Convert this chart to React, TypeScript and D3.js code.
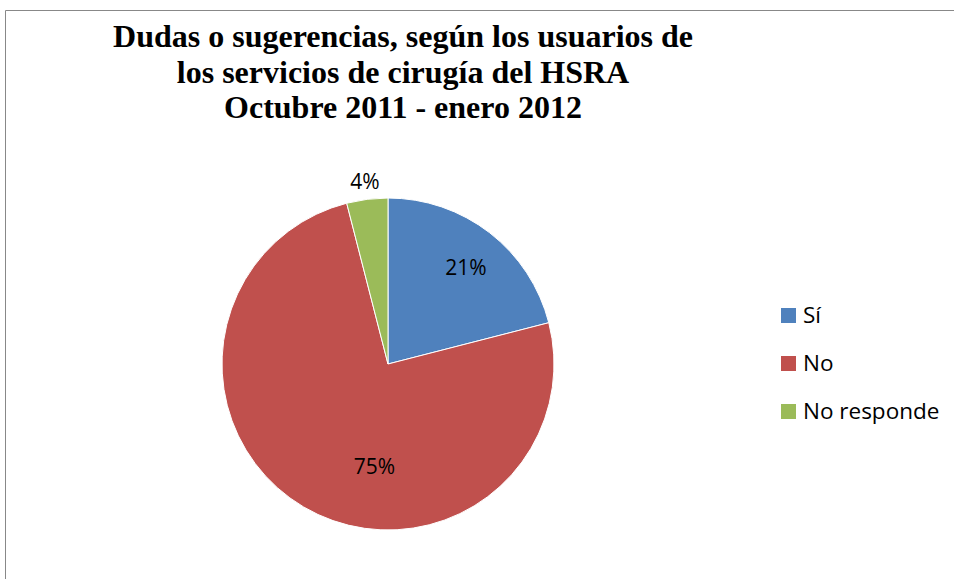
import React from "react";
import * as d3 from "d3";

const categories = ["Sí", "No", "No responde"];
const values = [21, 75, 4];
const labels = ["21%", "75%", "4%"];
const colors = ["#4F81BD", "#C0504D", "#9BBB59"];
const titleLines = [
  "Dudas o sugerencias, según los usuarios de",
  "los servicios de cirugía del HSRA",
  "Octubre 2011 - enero 2012",
];
// label placement (radius factor, angle shift in degrees) — layout only
const labelRadius = [0.75, 0.62, 1.11];
const labelShift = [1, -23, 0];

const W = 954;
const H = 579;
const cx = 388;
const cy = 364;
const R = 166;

export default function App() {
  const pie = d3.pie<number>().sort(null).value((d) => d)(values);
  const arc = d3.arc<d3.PieArcDatum<number>>().innerRadius(0).outerRadius(R);
  const labelPos = (d: d3.PieArcDatum<number>, i: number) => {
    const a = (d.startAngle + d.endAngle) / 2 + (labelShift[i] * Math.PI) / 180;
    const r = R * labelRadius[i];
    return [cx + r * Math.sin(a), cy - r * Math.cos(a)];
  };
  return (
    <svg
      width={W}
      height={H}
      style={{ position: "absolute", left: 0, top: 0, background: "#fff" }}
    >
      <line x1={5.5} y1={10.5} x2={W} y2={10.5} stroke="#888" strokeWidth={1} />
      <line x1={5.5} y1={10.5} x2={5.5} y2={H} stroke="#888" strokeWidth={1} />
      {titleLines.map((t, i) => (
        <text
          key={i}
          x={403}
          y={47 + i * 35.5}
          textAnchor="middle"
          fontFamily="Times New Roman, Liberation Serif, serif"
          fontWeight="bold"
          fontSize={32}
          fill="#000"
        >
          {t}
        </text>
      ))}
      <g transform={`translate(${cx},${cy})`}>
        {pie.map((d, i) => (
          <path key={i} d={arc(d) || ""} fill={colors[i]} stroke="#fff" strokeWidth={1} />
        ))}
      </g>
      {pie.map((d, i) => {
        const [x, y] = labelPos(d, i);
        return (
          <text
            key={i}
            x={x}
            y={y}
            textAnchor="middle"
            dominantBaseline="central"
            fontFamily="Open Sans, Noto Sans, sans-serif"
            fontSize={21}
            fill="#000"
          >
            {labels[i]}
          </text>
        );
      })}
      {categories.map((c, i) => (
        <g key={c} transform={`translate(781,${308 + i * 48})`}>
          <rect x={0} y={0} width={15} height={15} fill={colors[i]} />
          <text
            x={22}
            y={15}
            fontFamily="Open Sans, Noto Sans, sans-serif"
            fontSize={22.5}
            fill="#000"
          >
            {c}
          </text>
        </g>
      ))}
    </svg>
  );
}
